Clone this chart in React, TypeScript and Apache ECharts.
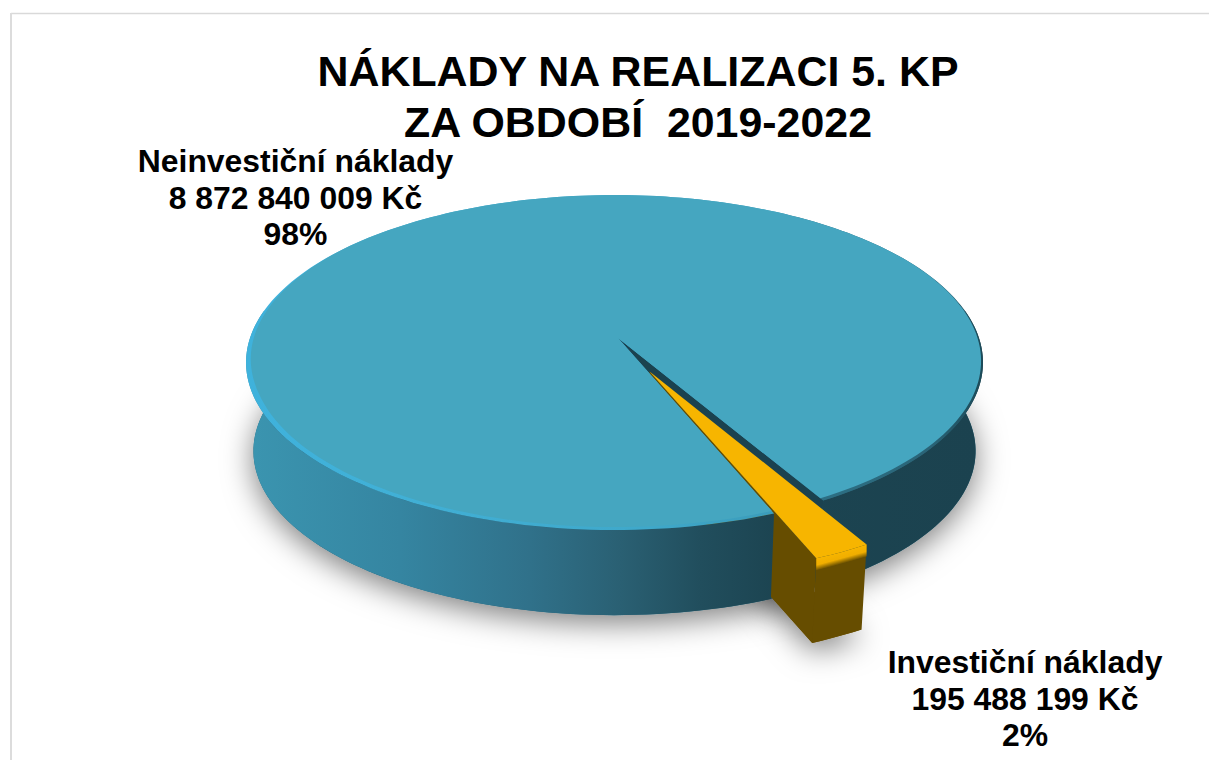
import React, { useEffect, useRef } from "react";
import * as echarts from "echarts";

const categories = ["Neinvestiční náklady", "Investiční náklady"];
const values = [8872840009, 195488199];
const titleLines = ["NÁKLADY NA REALIZACI 5. KP", "ZA OBDOBÍ  2019-2022"];
const FONT = '"Liberation Sans", Arial, sans-serif';

// projection of the tilted disc
const CX = 614.5, APEX_Y = 338, APEX_SHIFT = 3.5;
const A = 364.5, B = 163.9, K = 0.1463;
const BOTTOM_Y = 427, BOTTOM_S = 0.98;
// pie layout
const GOLD_START = 150; // degrees clockwise from the back of the disc
const EXPLODE = 0.215, EXPLODE_DIR = 157;
const LIP = 12;

const rad = (d: number) => (d * Math.PI) / 180;
const total = values.reduce((a, b) => a + b, 0);
const goldSweep = (values[1] / total) * 360;
const goldEnd = GOLD_START + goldSweep;

type Opt = { r?: number; bottom?: boolean; ex?: boolean; dy?: number; bevel?: boolean };
// width of the bevel on the rim, by angle: wide on the front-left, thin on the right, none at the back
function bevelWidth(a0: number): number {
  const a = ((a0 % 360) + 360) % 360;
  if (a >= 60 && a < 150) return (0.012 * (a - 60)) / 90;
  if (a >= 150 && a < 250) return 0.012 + (0.004 * (a - 150)) / 100;
  if (a >= 250 && a < 305) return (0.016 * (305 - a)) / 55;
  return 0;
}
function pt(angle: number, o: Opt = {}): number[] {
  const r = o.bevel ? 1 - bevelWidth(angle) : o.r ?? 1;
  let u = r * Math.sin(rad(angle));
  let v = -r * Math.cos(rad(angle));
  const shift = APEX_SHIFT * (1 - r);
  if (o.ex) {
    u += EXPLODE * Math.sin(rad(EXPLODE_DIR));
    v += -EXPLODE * Math.cos(rad(EXPLODE_DIR));
  }
  const d = 1 - K * v;
  const s = o.bottom ? BOTTOM_S : 1;
  const y0 = o.bottom ? BOTTOM_Y : APEX_Y;
  return [CX + shift + (s * A * u) / d, y0 + (o.dy ?? 0) + (s * B * v) / d];
}
function arc(a0: number, a1: number, o: Opt = {}): number[][] {
  const n = Math.max(2, Math.ceil(Math.abs(a1 - a0) / 1.5));
  const out: number[][] = [];
  for (let i = 0; i <= n; i++) out.push(pt(a0 + ((a1 - a0) * i) / n, o));
  return out;
}
const grad = (stops: [number, string][]) =>
  new echarts.graphic.LinearGradient(
    246, 0, 983, 0,
    stops.map(([x, color]) => ({ offset: (x - 246) / 737, color })),
    true
  );
const poly = (points: number[][], fill: any, extra: any = {}) => ({
  type: "polygon",
  shape: { points },
  style: { fill, ...extra },
  silent: true,
});
const wall = (a0: number, a1: number, o: Opt = {}) => [
  ...arc(a0, a1, o),
  ...arc(a1, a0, { ...o, bottom: true }),
];

const wallFill = () =>
  grad([
    [246, "#3b95b0"], [400, "#3585a1"], [530, "#30718a"], [620, "#2a6073"],
    [700, "#214e5d"], [775, "#1c4451"], [983, "#1b424f"],
  ]);
const rimFill = () =>
  grad([
    [246, "#3fb2dc"], [400, "#41b0d6"], [650, "#3fa8ca"], [775, "#3b9cba"],
    [800, "#2d7287"], [930, "#2a6477"], [983, "#1c4a58"],
  ]);

function renderShadow() {
  const sh = {
    shadowBlur: 30,
    shadowColor: "rgba(0,0,0,0.5)",
    shadowOffsetX: 0,
    shadowOffsetY: 8,
  };
  return {
    type: "group",
    children: [
      poly(arc(0, 360, { bottom: true }), "#2a6073", sh),
      poly(
        [pt(0, { r: 0, ex: true, bottom: true }), ...arc(GOLD_START, goldEnd, { ex: true, bottom: true })],
        "#664d00",
        sh
      ),
    ],
  };
}
function renderTealBack() {
  return {
    type: "group",
    children: [
      poly(wall(80, GOLD_START), wallFill()),
      poly(
        [pt(GOLD_START, { r: 0 }), pt(GOLD_START), pt(GOLD_START, { bottom: true }), pt(GOLD_START, { r: 0, bottom: true })],
        "#1b424f"
      ),
    ],
  };
}
function renderGold() {
  const tip = pt(0, { r: 0, ex: true });
  const tipB = pt(0, { r: 0, ex: true, bottom: true });
  const top = arc(GOLD_START, goldEnd, { ex: true });
  const lipBottom = arc(goldEnd, GOLD_START, { ex: true, dy: LIP });
  // the lip's gradient runs across the slanted front edge
  const R = top[0], L = top[top.length - 1];
  const ex = R[0] - L[0], ey = R[1] - L[1];
  const len = Math.hypot(ex, ey);
  const nx = (-ey / len) * LIP, ny = (ex / len) * LIP;
  const lip = new echarts.graphic.LinearGradient(
    L[0], L[1], L[0] + nx, L[1] + ny,
    [
      { offset: 0, color: "#f7b500" },
      { offset: 0.55, color: "#f0ae00" },
      { offset: 1, color: "#664d00" },
    ],
    true
  );
  return {
    type: "group",
    children: [
      poly([tip, pt(goldEnd, { ex: true }), pt(goldEnd, { ex: true, bottom: true }), tipB], "#664d00"),
      poly(wall(GOLD_START, goldEnd, { ex: true }), "#664d00"),
      poly([...top, ...lipBottom], lip),
      poly([tip, ...top], "#f7b500"),
    ],
  };
}
function renderTealFront() {
  return {
    type: "group",
    children: [
      poly(wall(goldEnd, 280), wallFill()),
      poly([pt(goldEnd, { r: 0 }), ...arc(goldEnd, 360 + GOLD_START)], rimFill()),
      poly(
        [pt(goldEnd, { r: 0 }), ...arc(goldEnd, 360 + GOLD_START, { bevel: true })],
        "#45a6c0"
      ),
    ],
  };
}
const layers = [renderShadow, renderTealBack, renderGold, renderTealFront];

const czk = (n: number) =>
  String(n).replace(/\B(?=(\d{3})+(?!\d))/g, " ") + " Kč";
const labelText = (i: number) =>
  `${categories[i]}\n${czk(values[i])}\n${Math.round((values[i] / total) * 100)}%`;

export default function App() {
  const ref = useRef<HTMLDivElement>(null);
  useEffect(() => {
    document.body.style.margin = "0";
    const chart = echarts.init(ref.current!, undefined, { renderer: "svg" });
    chart.setOption({
      animation: false,
      backgroundColor: "#ffffff",
      title: {
        text: titleLines.join("\n"),
        left: 633,
        top: 40,
        textAlign: "center",
        textStyle: {
          fontFamily: FONT,
          fontWeight: "bold",
          fontSize: 42.9,
          lineHeight: 51,
          color: "#000000",
        },
      },
      graphic: [
        { type: "line", shape: { x1: 11, y1: 13.5, x2: 1209, y2: 13.5 }, style: { stroke: "#d9d9d9", lineWidth: 1.5 } },
        { type: "line", shape: { x1: 11, y1: 13, x2: 11, y2: 760 }, style: { stroke: "#dcdcdc", lineWidth: 2 } },
        {
          type: "text", x: 295.5, y: 143,
          style: { text: labelText(0), font: `bold 31.9px ${FONT}`, lineHeight: 36.5, align: "center", verticalAlign: "top", fill: "#000" },
        },
        {
          type: "text", x: 1025, y: 644,
          style: { text: labelText(1), font: `bold 31.9px ${FONT}`, lineHeight: 36.5, align: "center", verticalAlign: "top", fill: "#000" },
        },
      ],
      series: layers.map((fn, i) => ({
        type: "custom",
        coordinateSystem: "none",
        silent: true,
        z: i + 1,
        data: [values[0]],
        renderItem: () => fn(),
      })),
    });
    return () => chart.dispose();
  }, []);
  return <div ref={ref} style={{ position: "absolute", left: 0, top: 0, width: 1209, height: 760 }} />;
}
